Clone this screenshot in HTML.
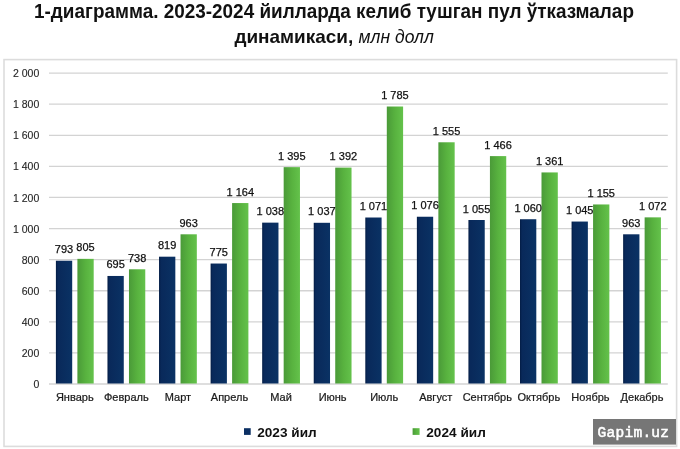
<!DOCTYPE html>
<html><head><meta charset="utf-8"><style>
html,body{margin:0;padding:0;background:#fff;}
body{width:680px;height:449px;overflow:hidden;position:relative;font-family:"Liberation Sans",sans-serif;}
svg{position:absolute;left:0;top:0;will-change:transform;}
.t{font-family:"Liberation Sans",sans-serif;}
</style></head><body>
<svg width="680" height="449" viewBox="0 0 680 449" class="t">
<defs>
<linearGradient id="gb" x1="0" x2="1" y1="0" y2="0"><stop offset="0" stop-color="#031c44"/><stop offset="0.12" stop-color="#09295a"/><stop offset="1" stop-color="#0a3264"/></linearGradient>
<linearGradient id="gg" x1="0" x2="1" y1="0" y2="0"><stop offset="0" stop-color="#4a9a38"/><stop offset="0.5" stop-color="#58b23f"/><stop offset="1" stop-color="#64c24b"/></linearGradient>
</defs>
<text x="334" y="17.6" text-anchor="middle" font-size="19.5" font-weight="bold" fill="#111" textLength="599.9" lengthAdjust="spacingAndGlyphs">1-диаграмма. 2023-2024 йилларда келиб тушган пул ўтказмалар</text>
<text x="234.4" y="43.1" font-size="19" font-weight="bold" fill="#111" textLength="118.8" lengthAdjust="spacingAndGlyphs">динамикаси,</text>
<text x="358.6" y="43.1" font-size="19" font-style="italic" fill="#111" textLength="75.2" lengthAdjust="spacingAndGlyphs">млн долл</text>
<rect x="4" y="59.6" width="672.6" height="386.8" fill="none" stroke="#dcdcdc" stroke-width="1.6"/>
<line x1="49.0" x2="667.8" y1="384.00" y2="384.00" stroke="#d3d3d3" stroke-width="1.3"/>
<text x="39.3" y="388.10" text-anchor="end" font-size="10.5" fill="#262626" stroke="#262626" stroke-width="0.12">0</text>
<line x1="49.0" x2="667.8" y1="352.91" y2="352.91" stroke="#d3d3d3" stroke-width="1.3"/>
<text x="39.3" y="357.01" text-anchor="end" font-size="10.5" fill="#262626" stroke="#262626" stroke-width="0.12">200</text>
<line x1="49.0" x2="667.8" y1="321.82" y2="321.82" stroke="#d3d3d3" stroke-width="1.3"/>
<text x="39.3" y="325.92" text-anchor="end" font-size="10.5" fill="#262626" stroke="#262626" stroke-width="0.12">400</text>
<line x1="49.0" x2="667.8" y1="290.73" y2="290.73" stroke="#d3d3d3" stroke-width="1.3"/>
<text x="39.3" y="294.83" text-anchor="end" font-size="10.5" fill="#262626" stroke="#262626" stroke-width="0.12">600</text>
<line x1="49.0" x2="667.8" y1="259.64" y2="259.64" stroke="#d3d3d3" stroke-width="1.3"/>
<text x="39.3" y="263.74" text-anchor="end" font-size="10.5" fill="#262626" stroke="#262626" stroke-width="0.12">800</text>
<line x1="49.0" x2="667.8" y1="228.55" y2="228.55" stroke="#d3d3d3" stroke-width="1.3"/>
<text x="39.3" y="232.65" text-anchor="end" font-size="10.5" fill="#262626" stroke="#262626" stroke-width="0.12">1 000</text>
<line x1="49.0" x2="667.8" y1="197.46" y2="197.46" stroke="#d3d3d3" stroke-width="1.3"/>
<text x="39.3" y="201.56" text-anchor="end" font-size="10.5" fill="#262626" stroke="#262626" stroke-width="0.12">1 200</text>
<line x1="49.0" x2="667.8" y1="166.37" y2="166.37" stroke="#d3d3d3" stroke-width="1.3"/>
<text x="39.3" y="170.47" text-anchor="end" font-size="10.5" fill="#262626" stroke="#262626" stroke-width="0.12">1 400</text>
<line x1="49.0" x2="667.8" y1="135.28" y2="135.28" stroke="#d3d3d3" stroke-width="1.3"/>
<text x="39.3" y="139.38" text-anchor="end" font-size="10.5" fill="#262626" stroke="#262626" stroke-width="0.12">1 600</text>
<line x1="49.0" x2="667.8" y1="104.19" y2="104.19" stroke="#d3d3d3" stroke-width="1.3"/>
<text x="39.3" y="108.29" text-anchor="end" font-size="10.5" fill="#262626" stroke="#262626" stroke-width="0.12">1 800</text>
<line x1="49.0" x2="667.8" y1="73.10" y2="73.10" stroke="#d3d3d3" stroke-width="1.3"/>
<text x="39.3" y="77.20" text-anchor="end" font-size="10.5" fill="#262626" stroke="#262626" stroke-width="0.12">2 000</text>
<rect x="55.90" y="260.73" width="16.3" height="122.77" fill="url(#gb)"/>
<rect x="77.40" y="258.86" width="16.3" height="124.64" fill="url(#gg)"/>
<text x="74.78" y="401.2" text-anchor="middle" font-size="11" fill="#1a1a1a" stroke="#1a1a1a" stroke-width="0.22">Январь</text>
<rect x="107.47" y="275.96" width="16.3" height="107.54" fill="url(#gb)"/>
<rect x="128.97" y="269.28" width="16.3" height="114.22" fill="url(#gg)"/>
<text x="126.35" y="401.2" text-anchor="middle" font-size="11" fill="#1a1a1a" stroke="#1a1a1a" stroke-width="0.22">Февраль</text>
<rect x="159.03" y="256.69" width="16.3" height="126.81" fill="url(#gb)"/>
<rect x="180.53" y="234.30" width="16.3" height="149.20" fill="url(#gg)"/>
<text x="177.92" y="401.2" text-anchor="middle" font-size="11" fill="#1a1a1a" stroke="#1a1a1a" stroke-width="0.22">Март</text>
<rect x="210.60" y="263.53" width="16.3" height="119.97" fill="url(#gb)"/>
<rect x="232.10" y="203.06" width="16.3" height="180.44" fill="url(#gg)"/>
<text x="229.48" y="401.2" text-anchor="middle" font-size="11" fill="#1a1a1a" stroke="#1a1a1a" stroke-width="0.22">Апрель</text>
<rect x="262.17" y="222.64" width="16.3" height="160.86" fill="url(#gb)"/>
<rect x="283.67" y="167.15" width="16.3" height="216.35" fill="url(#gg)"/>
<text x="281.05" y="401.2" text-anchor="middle" font-size="11" fill="#1a1a1a" stroke="#1a1a1a" stroke-width="0.22">Май</text>
<rect x="313.73" y="222.80" width="16.3" height="160.70" fill="url(#gb)"/>
<rect x="335.23" y="167.61" width="16.3" height="215.89" fill="url(#gg)"/>
<text x="332.62" y="401.2" text-anchor="middle" font-size="11" fill="#1a1a1a" stroke="#1a1a1a" stroke-width="0.22">Июнь</text>
<rect x="365.30" y="217.51" width="16.3" height="165.99" fill="url(#gb)"/>
<rect x="386.80" y="106.52" width="16.3" height="276.98" fill="url(#gg)"/>
<text x="384.18" y="401.2" text-anchor="middle" font-size="11" fill="#1a1a1a" stroke="#1a1a1a" stroke-width="0.22">Июль</text>
<rect x="416.87" y="216.74" width="16.3" height="166.76" fill="url(#gb)"/>
<rect x="438.37" y="142.28" width="16.3" height="241.22" fill="url(#gg)"/>
<text x="435.75" y="401.2" text-anchor="middle" font-size="11" fill="#1a1a1a" stroke="#1a1a1a" stroke-width="0.22">Август</text>
<rect x="468.43" y="220.00" width="16.3" height="163.50" fill="url(#gb)"/>
<rect x="489.93" y="156.11" width="16.3" height="227.39" fill="url(#gg)"/>
<text x="487.32" y="401.2" text-anchor="middle" font-size="11" fill="#1a1a1a" stroke="#1a1a1a" stroke-width="0.22">Сентябрь</text>
<rect x="520.00" y="219.22" width="16.3" height="164.28" fill="url(#gb)"/>
<rect x="541.50" y="172.43" width="16.3" height="211.07" fill="url(#gg)"/>
<text x="538.88" y="401.2" text-anchor="middle" font-size="11" fill="#1a1a1a" stroke="#1a1a1a" stroke-width="0.22">Октябрь</text>
<rect x="571.57" y="221.55" width="16.3" height="161.95" fill="url(#gb)"/>
<rect x="593.07" y="204.46" width="16.3" height="179.04" fill="url(#gg)"/>
<text x="590.45" y="401.2" text-anchor="middle" font-size="11" fill="#1a1a1a" stroke="#1a1a1a" stroke-width="0.22">Ноябрь</text>
<rect x="623.13" y="234.30" width="16.3" height="149.20" fill="url(#gb)"/>
<rect x="644.63" y="217.36" width="16.3" height="166.14" fill="url(#gg)"/>
<text x="642.02" y="401.2" text-anchor="middle" font-size="11" fill="#1a1a1a" stroke="#1a1a1a" stroke-width="0.22">Декабрь</text>
<text x="64.05" y="253.23" text-anchor="middle" font-size="11" fill="#111" stroke="#111" stroke-width="0.25">793</text>
<text x="85.55" y="251.36" text-anchor="middle" font-size="11" fill="#111" stroke="#111" stroke-width="0.25">805</text>
<text x="115.62" y="268.46" text-anchor="middle" font-size="11" fill="#111" stroke="#111" stroke-width="0.25">695</text>
<text x="137.12" y="261.78" text-anchor="middle" font-size="11" fill="#111" stroke="#111" stroke-width="0.25">738</text>
<text x="167.18" y="249.19" text-anchor="middle" font-size="11" fill="#111" stroke="#111" stroke-width="0.25">819</text>
<text x="188.68" y="226.80" text-anchor="middle" font-size="11" fill="#111" stroke="#111" stroke-width="0.25">963</text>
<text x="218.75" y="256.03" text-anchor="middle" font-size="11" fill="#111" stroke="#111" stroke-width="0.25">775</text>
<text x="240.25" y="195.56" text-anchor="middle" font-size="11" fill="#111" stroke="#111" stroke-width="0.25">1 164</text>
<text x="270.32" y="215.14" text-anchor="middle" font-size="11" fill="#111" stroke="#111" stroke-width="0.25">1 038</text>
<text x="291.82" y="159.65" text-anchor="middle" font-size="11" fill="#111" stroke="#111" stroke-width="0.25">1 395</text>
<text x="321.88" y="215.30" text-anchor="middle" font-size="11" fill="#111" stroke="#111" stroke-width="0.25">1 037</text>
<text x="343.38" y="160.11" text-anchor="middle" font-size="11" fill="#111" stroke="#111" stroke-width="0.25">1 392</text>
<text x="373.45" y="210.01" text-anchor="middle" font-size="11" fill="#111" stroke="#111" stroke-width="0.25">1 071</text>
<text x="394.95" y="99.02" text-anchor="middle" font-size="11" fill="#111" stroke="#111" stroke-width="0.25">1 785</text>
<text x="425.02" y="209.24" text-anchor="middle" font-size="11" fill="#111" stroke="#111" stroke-width="0.25">1 076</text>
<text x="446.52" y="134.78" text-anchor="middle" font-size="11" fill="#111" stroke="#111" stroke-width="0.25">1 555</text>
<text x="476.58" y="212.50" text-anchor="middle" font-size="11" fill="#111" stroke="#111" stroke-width="0.25">1 055</text>
<text x="498.08" y="148.61" text-anchor="middle" font-size="11" fill="#111" stroke="#111" stroke-width="0.25">1 466</text>
<text x="528.15" y="211.72" text-anchor="middle" font-size="11" fill="#111" stroke="#111" stroke-width="0.25">1 060</text>
<text x="549.65" y="164.93" text-anchor="middle" font-size="11" fill="#111" stroke="#111" stroke-width="0.25">1 361</text>
<text x="579.72" y="214.05" text-anchor="middle" font-size="11" fill="#111" stroke="#111" stroke-width="0.25">1 045</text>
<text x="601.22" y="196.96" text-anchor="middle" font-size="11" fill="#111" stroke="#111" stroke-width="0.25">1 155</text>
<text x="631.28" y="226.80" text-anchor="middle" font-size="11" fill="#111" stroke="#111" stroke-width="0.25">963</text>
<text x="652.78" y="209.86" text-anchor="middle" font-size="11" fill="#111" stroke="#111" stroke-width="0.25">1 072</text>
<rect x="244" y="428.2" width="6.7" height="6.7" fill="#0b2f63"/>
<text x="257.2" y="436.5" font-size="12.5" font-weight="bold" fill="#111" textLength="59.5" lengthAdjust="spacingAndGlyphs">2023 йил</text>
<rect x="412.6" y="428.2" width="7" height="6.7" fill="url(#gg)"/>
<text x="426.3" y="436.5" font-size="12.5" font-weight="bold" fill="#111" textLength="59.5" lengthAdjust="spacingAndGlyphs">2024 йил</text>
<rect x="593" y="419" width="83" height="25.6" fill="#767676"/>
<text x="597.6" y="436.7" font-family="Liberation Mono, monospace" font-size="14.5" font-weight="normal" fill="#fff" stroke="#fff" stroke-width="0.55" textLength="71.4" lengthAdjust="spacing">Gapim.uz</text>
</svg>
</body></html>
